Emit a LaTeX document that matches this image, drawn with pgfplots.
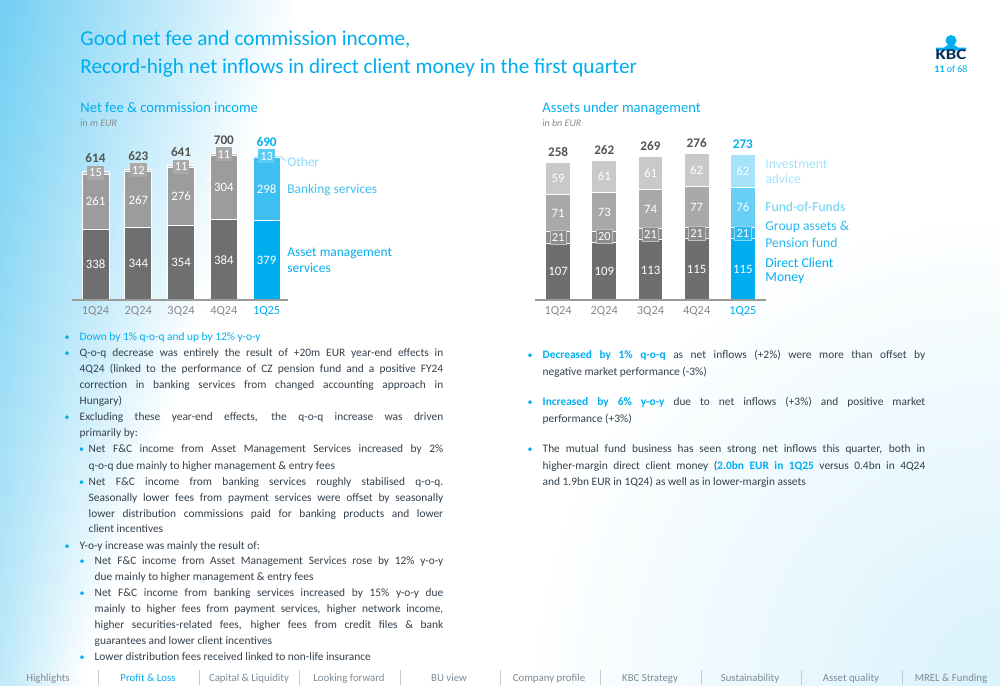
\documentclass[border=0pt]{standalone}
\usepackage{fontspec}
\setmainfont{Carlito}
\usepackage{pgfplots}
\pgfplotsset{compat=1.18}
\definecolor{kbcblue}{HTML}{00AEEF}
\definecolor{kbcnavy}{HTML}{0B2D55}
\definecolor{bgblue}{HTML}{4FC3F0}
\definecolor{bodytext}{HTML}{33404C}
\definecolor{navgrey}{HTML}{7D8A96}
\definecolor{tickgrey}{HTML}{8A8A8A}
\definecolor{totgrey}{HTML}{555555}
\definecolor{axisgrey}{HTML}{9A9A9A}
\definecolor{amgrey}{HTML}{6F6F6F}
\definecolor{bkgrey}{HTML}{9C9C9C}
\definecolor{otgrey}{HTML}{C9C9C9}
\definecolor{otbox}{HTML}{A9A9A9}
\definecolor{amblue}{HTML}{00AEEF}
\definecolor{bkblue}{HTML}{3DC0F1}
\definecolor{otblue}{HTML}{B3E6FA}
\definecolor{otbluebox}{HTML}{5CCBF4}
\definecolor{dcgrey}{HTML}{6E6E6E}
\definecolor{gagrey}{HTML}{8C8C8C}
\definecolor{ffgrey}{HTML}{A8A8A8}
\definecolor{iagrey}{HTML}{C9C9C9}
\definecolor{dcblue}{HTML}{00AEEF}
\definecolor{gablue}{HTML}{2BB8EF}
\definecolor{ffblue}{HTML}{67CFF4}
\definecolor{iablue}{HTML}{A6E2F9}
\definecolor{othtext}{HTML}{8FD9F7}
\newcommand{\fs}[1]{\fontsize{#1}{#1}\selectfont}
\newcommand{\JL}[1]{\makebox[181.8pt][s]{#1}}
\newcommand{\JS}[1]{\makebox[177.3pt][s]{#1}}
\newcommand{\JT}[1]{\makebox[174.3pt][s]{#1}}
\newcommand{\JR}[1]{\makebox[191.3pt][s]{#1}}
\newcommand{\tl}[3]{\node[anchor=base west,inner sep=0pt] at (#1,-#2) {#3};}
\newcommand{\bul}[2]{\node[anchor=base,inner sep=0pt,text=kbcblue] at (#1,-#2) {\fs{5}\textbullet};}
\tikzset{vl/.style={font=\fs{6.4}, text=white, inner sep=0pt},
  bx/.style={font=\fs{6.2}, text=white, inner sep=1pt, minimum height=7pt},
  tot/.style={font=\fs{6.6}\bfseries, text=totgrey, inner sep=0pt},
  tk/.style={font=\fs{6.2}, text=tickgrey, inner sep=0pt}}
\begin{document}
\begin{tikzpicture}[x=0.5pt,y=0.5pt]
\path[use as bounding box] (0,0) rectangle (1000,-685);
\fill[white] (0,0) rectangle (1000,-685);
% background
\begin{scope}
\clip (0,0) rectangle (1000,-685);
\foreach \i in {0,...,39} {
  \pgfmathsetmacro{\ya}{-\i*17.125}
  \pgfmathsetmacro{\yb}{-(\i+1)*17.125-0.5}
  \pgfmathsetmacro{\w}{300-\i*5.5}
  \pgfmathsetmacro{\t}{80-\i*1.1}
  \shade[left color=bgblue!\t!white, right color=white] (0,\ya) rectangle (\w,\yb);
}
\shade[inner color=bgblue!22!white, outer color=white] (1000,-685) circle (480);
\end{scope}
% header
\node[anchor=base west,inner sep=0pt,text=kbcblue] at (80,-45.5) {\fs{10.6}Good net fee and commission income,};
\node[anchor=base west,inner sep=0pt,text=kbcblue] at (80,-73.5) {\fs{10.6}Record-high net inflows in direct client money in the first quarter};
% logo
\fill[kbcblue] (951,-40.5) circle (5.5);
\fill[kbcblue] (936,-50.5) -- (936,-47.5) -- (944,-47.5) .. controls (946,-44) and (956,-44) .. (958,-47.5) -- (966,-47.5) -- (966,-50.5) -- cycle;
\node[anchor=base,inner sep=0pt,text=kbcnavy] at (951,-59.5) {\fs{7.5}\bfseries\scalebox{1.25}[1]{KBC}};
\node[anchor=base,inner sep=0pt,text=kbcblue] at (951,-72.5) {\fs{5}\textbf{11} of 68};
% chart titles
\node[anchor=base west,inner sep=0pt,text=kbcblue] at (80,-112.5) {\fs{7.3}Net fee \& commission income};
\node[anchor=base west,inner sep=0pt,text=tickgrey] at (80,-126) {\fs{5}\itshape in m EUR};
\node[anchor=base west,inner sep=0pt,text=kbcblue] at (542,-112.5) {\fs{7.3}Assets under management};
\node[anchor=base west,inner sep=0pt,text=tickgrey] at (542,-126) {\fs{5}\itshape in bn EUR};
% left chart
\begin{axis}[
  at={(36pt,-150pt)}, anchor=south west,
  scale only axis, width=108pt, height=73.5pt,
  xmin=-0.55, xmax=4.5, ymin=0, ymax=700,
  ybar stacked, bar width=0.63,
  axis x line=none, axis y line=none,
  clip=false,
  every axis plot/.append style={draw=white, line width=0.5pt},
]
\addplot[fill=amgrey] coordinates {(0,338) (1,344) (2,354) (3,384) (4,0)};
\addplot[fill=amblue] coordinates {(0,0) (1,0) (2,0) (3,0) (4,379)};
\addplot[fill=bkgrey] coordinates {(0,261) (1,267) (2,276) (3,304) (4,0)};
\addplot[fill=bkblue] coordinates {(0,0) (1,0) (2,0) (3,0) (4,298)};
\addplot[fill=otgrey] coordinates {(0,15) (1,12) (2,11) (3,11) (4,0)};
\addplot[fill=otblue] coordinates {(0,0) (1,0) (2,0) (3,0) (4,13)};
\coordinate (lz1) at (axis cs:-0.55,0); \coordinate (lz2) at (axis cs:4.5,0);
\coordinate (la0) at (axis cs:0,169); \coordinate (la1) at (axis cs:1,172); \coordinate (la2) at (axis cs:2,177); \coordinate (la3) at (axis cs:3,192); \coordinate (la4) at (axis cs:4,189.5);
\coordinate (lb0) at (axis cs:0,468.5); \coordinate (lb1) at (axis cs:1,477.5); \coordinate (lb2) at (axis cs:2,492); \coordinate (lb3) at (axis cs:3,536); \coordinate (lb4) at (axis cs:4,528);
\coordinate (lo0) at (axis cs:0,606.5); \coordinate (lo1) at (axis cs:1,617); \coordinate (lo2) at (axis cs:2,635.5); \coordinate (lo3) at (axis cs:3,693.5); \coordinate (lo4) at (axis cs:4,683.5);
\coordinate (lt0) at (axis cs:0,614); \coordinate (lt1) at (axis cs:1,623); \coordinate (lt2) at (axis cs:2,641); \coordinate (lt3) at (axis cs:3,699); \coordinate (lt4) at (axis cs:4,690);
\coordinate (lx0) at (axis cs:0,-52); \coordinate (lx1) at (axis cs:1,-52); \coordinate (lx2) at (axis cs:2,-52); \coordinate (lx3) at (axis cs:3,-52); \coordinate (lx4) at (axis cs:4,-52);
\end{axis}
\draw[axisgrey, line width=0.8pt] (lz1) -- (lz2);
\node[vl] at (la0) {338}; \node[vl] at (la1) {344}; \node[vl] at (la2) {354}; \node[vl] at (la3) {384}; \node[vl] at (la4) {379};
\node[vl] at (lb0) {261}; \node[vl] at (lb1) {267}; \node[vl] at (lb2) {276}; \node[vl] at (lb3) {304}; \node[vl] at (lb4) {298};
\node[bx, fill=otbox] at (lo0) {15}; \node[bx, fill=otbox] at (lo1) {12}; \node[bx, fill=otbox] at (lo2) {11}; \node[bx, fill=otbox] at (lo3) {11}; \node[bx, fill=otbluebox] at (lo4) {13};
\node[tot, yshift=6.5pt] at (lt0) {614}; \node[tot, yshift=6.5pt] at (lt1) {623}; \node[tot, yshift=6.5pt] at (lt2) {641}; \node[tot, yshift=6.5pt] at (lt3) {700}; \node[tot, yshift=6.5pt, text=kbcblue] at (lt4) {690};
\node[tk] at (lx0) {1Q24}; \node[tk] at (lx1) {2Q24}; \node[tk] at (lx2) {3Q24}; \node[tk] at (lx3) {4Q24}; \node[tk, text=kbcblue] at (lx4) {1Q25};
% left legend
\draw[othtext, line width=0.5pt] (280.5,-156) -- (285.5,-161);
\node[anchor=west,inner sep=0pt,text=othtext] at (287,-161.5) {\fs{6.7}Other};
\node[anchor=west,inner sep=0pt,text=bkblue] at (287,-190) {\fs{6.7}Banking services};
\node[anchor=west,inner sep=0pt,text=amblue] at (287,-253) {\fs{6.7}Asset management};
\node[anchor=west,inner sep=0pt,text=amblue] at (287,-268) {\fs{6.7}services};
% right chart
\begin{axis}[
  at={(267.5pt,-150pt)}, anchor=south west,
  scale only axis, width=115.5pt, height=73.4pt,
  xmin=-0.5, xmax=4.5, ymin=0, ymax=276,
  ybar stacked, bar width=0.535,
  axis x line=none, axis y line=none,
  clip=false,
  every axis plot/.append style={draw=white, line width=0.5pt},
]
\addplot[fill=dcgrey] coordinates {(0,107) (1,109) (2,113) (3,115) (4,0)};
\addplot[fill=dcblue] coordinates {(0,0) (1,0) (2,0) (3,0) (4,115)};
\addplot[fill=gagrey] coordinates {(0,21) (1,20) (2,21) (3,21) (4,0)};
\addplot[fill=gablue] coordinates {(0,0) (1,0) (2,0) (3,0) (4,21)};
\addplot[fill=ffgrey] coordinates {(0,71) (1,73) (2,74) (3,77) (4,0)};
\addplot[fill=ffblue] coordinates {(0,0) (1,0) (2,0) (3,0) (4,76)};
\addplot[fill=iagrey] coordinates {(0,59) (1,61) (2,61) (3,62) (4,0)};
\addplot[fill=iablue] coordinates {(0,0) (1,0) (2,0) (3,0) (4,62)};
\coordinate (rz1) at (axis cs:-0.5,0); \coordinate (rz2) at (axis cs:4.5,0);
\coordinate (ra0) at (axis cs:0,53.5); \coordinate (ra1) at (axis cs:1,54.5); \coordinate (ra2) at (axis cs:2,56.5); \coordinate (ra3) at (axis cs:3,57.5); \coordinate (ra4) at (axis cs:4,57.5);
\coordinate (rb0) at (axis cs:0,117.5); \coordinate (rb1) at (axis cs:1,119); \coordinate (rb2) at (axis cs:2,123.5); \coordinate (rb3) at (axis cs:3,125.5); \coordinate (rb4) at (axis cs:4,125.5);
\coordinate (rc0) at (axis cs:0,163.5); \coordinate (rc1) at (axis cs:1,165.5); \coordinate (rc2) at (axis cs:2,171); \coordinate (rc3) at (axis cs:3,174.5); \coordinate (rc4) at (axis cs:4,174);
\coordinate (rd0) at (axis cs:0,228.5); \coordinate (rd1) at (axis cs:1,232.5); \coordinate (rd2) at (axis cs:2,238.5); \coordinate (rd3) at (axis cs:3,244); \coordinate (rd4) at (axis cs:4,243);
\coordinate (rt0) at (axis cs:0,258); \coordinate (rt1) at (axis cs:1,263); \coordinate (rt2) at (axis cs:2,269); \coordinate (rt3) at (axis cs:3,275); \coordinate (rt4) at (axis cs:4,274);
\coordinate (rx0) at (axis cs:0,-20.5); \coordinate (rx1) at (axis cs:1,-20.5); \coordinate (rx2) at (axis cs:2,-20.5); \coordinate (rx3) at (axis cs:3,-20.5); \coordinate (rx4) at (axis cs:4,-20.5);
\end{axis}
\draw[axisgrey, line width=0.8pt] (rz1) -- (rz2);
\node[vl] at (ra0) {107}; \node[vl] at (ra1) {109}; \node[vl] at (ra2) {113}; \node[vl] at (ra3) {115}; \node[vl] at (ra4) {115};
\begin{scope}[every node/.append style={draw=gagrey!55!white, line width=0.3pt}]
\node[bx, fill=gagrey] at (rb0) {21}; \node[bx, fill=gagrey] at (rb1) {20}; \node[bx, fill=gagrey] at (rb2) {21}; \node[bx, fill=gagrey] at (rb3) {21}; \node[bx, fill=gablue, draw=gablue!55!white] at (rb4) {21};
\end{scope}
\node[vl] at (rc0) {71}; \node[vl] at (rc1) {73}; \node[vl] at (rc2) {74}; \node[vl] at (rc3) {77}; \node[vl] at (rc4) {76};
\node[vl] at (rd0) {59}; \node[vl] at (rd1) {61}; \node[vl] at (rd2) {61}; \node[vl] at (rd3) {62}; \node[vl] at (rd4) {62};
\node[tot, yshift=5.25pt] at (rt0) {258}; \node[tot, yshift=5.25pt] at (rt1) {262}; \node[tot, yshift=5.25pt] at (rt2) {269}; \node[tot, yshift=5.25pt] at (rt3) {276}; \node[tot, yshift=5.25pt, text=kbcblue] at (rt4) {273};
\node[tk] at (rx0) {1Q24}; \node[tk] at (rx1) {2Q24}; \node[tk] at (rx2) {3Q24}; \node[tk] at (rx3) {4Q24}; \node[tk, text=kbcblue] at (rx4) {1Q25};
% right legend
\node[anchor=west,inner sep=0pt,text=iablue] at (765,-164) {\fs{6.8}Investment};
\node[anchor=west,inner sep=0pt,text=iablue] at (765,-179) {\fs{6.8}advice};
\node[anchor=west,inner sep=0pt,text=ffblue] at (765,-207) {\fs{6.8}Fund-of-Funds};
\node[anchor=west,inner sep=0pt,text=gablue] at (765,-227) {\fs{6.8}Group assets \&};
\node[anchor=west,inner sep=0pt,text=gablue] at (765,-243) {\fs{6.8}Pension fund};
\node[anchor=west,inner sep=0pt,text=dcblue] at (765,-263) {\fs{6.8}Direct Client};
\node[anchor=west,inner sep=0pt,text=dcblue] at (765,-278) {\fs{6.8}Money};
% left bullets
\begin{scope}[every node/.append style={font=\fs{5.7}, text=bodytext}]
\bul{67}{340.5}\tl{79.3}{340.5}{\textcolor{kbcblue}{Down by 1\% q-o-q and up by 12\% y-o-y}}
\bul{67}{356.5}\tl{79.3}{356.5}{\JL{Q-o-q decrease was entirely the result of +20m EUR year-end effects in}}
\tl{79.3}{372.5}{\JL{4Q24 (linked to the performance of CZ pension fund and a positive FY24}}
\tl{79.3}{388.5}{\JL{correction in banking services from changed accounting approach in}}
\tl{79.3}{404.5}{Hungary)}
\bul{67}{420.5}\tl{79.3}{420.5}{\JL{Excluding these year-end effects, the q-o-q increase was driven}}
\tl{79.3}{436.5}{primarily by:}
\bul{81.5}{452.5}\tl{88.3}{452.5}{\JS{Net F\&C income from Asset Management Services increased by 2\%}}
\tl{88.3}{469}{q-o-q due mainly to higher management \& entry fees}
\bul{81.5}{485.5}\tl{88.3}{485.5}{\JS{Net F\&C income from banking services roughly stabilised q-o-q.}}
\tl{88.3}{501.5}{\JS{Seasonally lower fees from payment services were offset by seasonally}}
\tl{88.3}{517.5}{\JS{lower distribution commissions paid for banking products and lower}}
\tl{88.3}{532.5}{client incentives}
\bul{67}{549.5}\tl{79.3}{549.5}{Y-o-y increase was mainly the result of:}
\bul{82}{564.5}\tl{94.3}{564.5}{\JT{Net F\&C income from Asset Management Services rose by 12\% y-o-y}}
\tl{94.3}{580.5}{due mainly to higher management \& entry fees}
\bul{82}{596.5}\tl{94.3}{596.5}{\JT{Net F\&C income from banking services increased by 15\% y-o-y due}}
\tl{94.3}{612.5}{\JT{mainly to higher fees from payment services, higher network income,}}
\tl{94.3}{628.5}{\JT{higher securities-related fees, higher fees from credit files \& bank}}
\tl{94.3}{644.5}{guarantees and lower client incentives}
\bul{82}{660.5}\tl{94.3}{660.5}{Lower distribution fees received linked to non-life insurance}
% right bullets
\bul{530}{358.5}\tl{542.3}{358.5}{\JR{\textcolor{kbcblue}{\bfseries Decreased by 1\% q-o-q} as net inflows (+2\%) were more than offset by}}
\tl{542.3}{375.5}{negative market performance (-3\%)}
\bul{530}{405.5}\tl{542.3}{405.5}{\JR{\textcolor{kbcblue}{\bfseries Increased by 6\% y-o-y} due to net inflows (+3\%) and positive market}}
\tl{542.3}{422.5}{performance (+3\%)}
\bul{530}{452.5}\tl{542.3}{452.5}{\JR{The mutual fund business has seen strong net inflows this quarter, both in}}
\tl{542.3}{469.5}{\JR{higher-margin direct client money (\textcolor{kbcblue}{\bfseries 2.0bn EUR in 1Q25} versus 0.4bn in 4Q24}}
\tl{542.3}{485.5}{and 1.9bn EUR in 1Q24) as well as in lower-margin assets}
\end{scope}
% footer nav
\foreach \x in {98,199,299,400,500,600,701,801,902} {\draw[navgrey!45, line width=0.4pt] (\x,-670) -- (\x,-685);}
\begin{scope}[every node/.append style={font=\fs{5.4}, text=navgrey, anchor=base, inner sep=0pt}]
\node at (48,-681) {Highlights};
\node[text=kbcblue] at (148,-681) {Profit \& Loss};
\node at (249,-681) {Capital \& Liquidity};
\node at (349,-681) {Looking forward};
\node at (449,-681) {BU view};
\node at (549,-681) {Company profile};
\node at (650,-681) {KBC Strategy};
\node at (750,-681) {Sustainability};
\node at (851,-681) {Asset quality};
\node at (951,-681) {MREL \& Funding};
\end{scope}
\end{tikzpicture}
\end{document}
